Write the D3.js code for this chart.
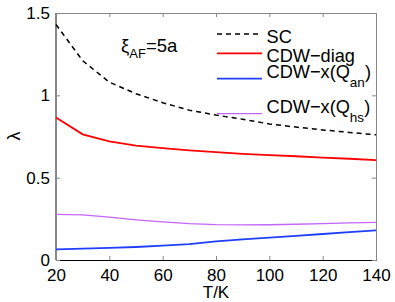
<!DOCTYPE html>
<html><head><meta charset="utf-8">
<script src="https://cdn.jsdelivr.net/npm/d3@7"></script>
<style>
body{margin:0;background:#fff;}
text{font-family:"Liberation Sans",Arial,Helvetica,sans-serif;fill:#000;}
</style></head>
<body><svg id="c" width="395" height="302"></svg>
<script>
const temps = [20,30,40,50,60,70,80,90,100,110,120,130,140];
const sc     = [1.43,1.21,1.08,1.01,0.955,0.91,0.88,0.855,0.826,0.807,0.79,0.775,0.76];
const diag   = [0.866,0.763,0.72,0.695,0.68,0.666,0.655,0.645,0.637,0.63,0.622,0.615,0.607];
const qan    = [0.065,0.069,0.074,0.079,0.087,0.097,0.113,0.125,0.136,0.147,0.158,0.169,0.18];
const qhs    = [0.277,0.274,0.26,0.244,0.231,0.221,0.215,0.213,0.214,0.217,0.221,0.225,0.229];
const xTicks = [20,40,60,80,100,120,140];
const yTicks = [0,0.5,1,1.5];
const yTickLabels = ["0","0.5","1","1.5"];

const series = [
  {name:"SC", vals:sc, color:"#000", width:1.5, dash:"5,4", sub:null},
  {name:"CDW\u2212diag", vals:diag, color:"#ff0000", width:1.8, dash:null, sub:null},
  {name:"CDW\u2212x(Q", vals:qan, color:"#1f3fff", width:1.8, dash:null, sub:"an"},
  {name:"CDW\u2212x(Q", vals:qhs, color:"#c266ff", width:1.3, dash:null, sub:"hs"}
];

const svg = d3.select("#c");
const L=56, R=376, T=13, B=260;
const x = d3.scaleLinear().domain([20,140]).range([L,R]);
const y = d3.scaleLinear().domain([0,1.5]).range([B,T]);

// frame
const frame = svg.append("g");
frame.append("line").attr("x1",L).attr("x2",R).attr("y1",T+0.5).attr("y2",T+0.5).attr("stroke","#888");
frame.append("line").attr("x1",R+0.5).attr("x2",R+0.5).attr("y1",T).attr("y2",B).attr("stroke","#888");
frame.append("line").attr("x1",L-0.5).attr("x2",L-0.5).attr("y1",T).attr("y2",B).attr("stroke","#888");

// axes
const xAxis = svg.append("g").attr("transform",`translate(0,${B})`)
  .call(d3.axisBottom(x).tickValues(xTicks).tickSizeInner(-4).tickSizeOuter(0).tickPadding(9));
xAxis.select(".domain").attr("stroke","#000").attr("stroke-width",1.2);
xAxis.selectAll(".tick line").attr("stroke","#888");
xAxis.selectAll("text").attr("font-size",17).attr("font-family","Liberation Sans, Arial, sans-serif");

const xTop = svg.append("g").attr("transform",`translate(0,${T})`)
  .call(d3.axisTop(x).tickValues(xTicks).tickSizeInner(-4).tickSizeOuter(0).tickFormat(""));
xTop.select(".domain").remove();
xTop.selectAll(".tick line").attr("stroke","#888");

const yAxis = svg.append("g").attr("transform",`translate(${L},0)`)
  .call(d3.axisLeft(y).tickValues(yTicks).tickSizeInner(-4).tickSizeOuter(0).tickPadding(6)
    .tickFormat((d,i)=>yTickLabels[i]));
yAxis.select(".domain").attr("stroke","#888");
yAxis.selectAll(".tick line").attr("stroke","#888");
yAxis.selectAll("text").attr("font-size",17).attr("font-family","Liberation Sans, Arial, sans-serif");

const yRight = svg.append("g").attr("transform",`translate(${R},0)`)
  .call(d3.axisRight(y).tickValues(yTicks).tickSizeInner(-4).tickSizeOuter(0).tickFormat(""));
yRight.select(".domain").remove();
yRight.selectAll(".tick line").attr("stroke","#888");

// lines
const line = d3.line().x((d,i)=>x(temps[i])).y(d=>y(d));
series.forEach(s=>{
  svg.append("path").datum(s.vals).attr("d",line).attr("fill","none")
    .attr("stroke",s.color).attr("stroke-width",s.width)
    .attr("stroke-dasharray",s.dash);
});

// legend
const legY = [34,53.3,78.7,113.7];
const legBase = [43.3,62.3,78,112.7];
series.forEach((s,i)=>{
  svg.append("line").attr("x1",217).attr("x2",262).attr("y1",legY[i]).attr("y2",legY[i])
    .attr("stroke",s.color).attr("stroke-width",s.width).attr("stroke-dasharray",s.dash);
  const t = svg.append("text").attr("x",266.5).attr("y",legBase[i]).attr("font-size",18.2).text(s.name);
  if(s.sub){
    t.append("tspan").attr("font-size",13.5).attr("dy",9).text(s.sub);
    t.append("tspan").attr("dy",-9).text(")");
  }
});

// annotation
const ann = svg.append("text").attr("x",121).attr("y",51.5).attr("font-size",18.5);
ann.append("tspan").text("\u03BE");
ann.append("tspan").attr("font-size",13).attr("dy",6).text("AF");
ann.append("tspan").attr("dy",-6).text("=5a");

// axis labels
svg.append("text").attr("x",216).attr("y",298).attr("text-anchor","middle").attr("font-size",17).text("T/K");
svg.append("text").attr("transform","translate(20,136) rotate(-90)").attr("text-anchor","middle").attr("font-size",18).text("\u03BB");
</script></body></html>
